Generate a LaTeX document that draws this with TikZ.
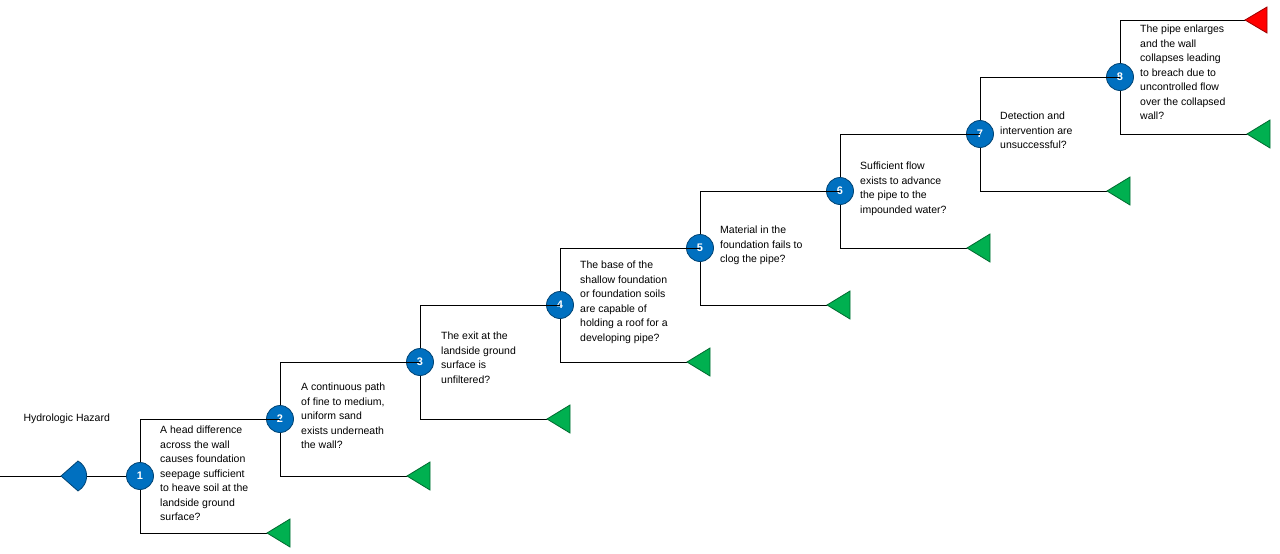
\documentclass[tikz,border=0pt]{standalone}
\usepackage{fontspec}
\setmainfont{Liberation Sans}
\definecolor{nodeblue}{HTML}{0070C0}
\definecolor{endgreen}{HTML}{00B050}
\tikzset{
  event/.style={circle,draw=nodeblue!60!black,fill=nodeblue,thick,minimum size=27pt,
    inner sep=0pt,text=white,font=\bfseries\fontsize{11}{11}\selectfont},
  question/.style={anchor=north west,align=left,inner sep=0pt,
    font=\fontsize{10.5}{14.5}\selectfont},
  branch/.style={draw=black,line width=0.8pt},
  endtri/.style={draw=#1!60!black,fill=#1,line width=0.8pt}
}
\begin{document}
\begin{tikzpicture}[x=1pt,y=-1pt]
  \useasboundingbox (0,0) rectangle (1280,554);
  % initiating event
  \node[anchor=west,font=\fontsize{10.5}{12}\selectfont] (hazard) at (20,419) {Hydrologic Hazard};
  \coordinate (start) at (0,476);
  \coordinate (haz) at (61,476);
  \foreach \i in {1,...,8}{
    \node[event] (e\i) at ({140+140*(\i-1)},{476-57*(\i-1)}) {\i};
    \coordinate (up\i) at ({140+140*(\i-1)},{419-57*(\i-1)});
    \coordinate (dn\i) at ({140+140*(\i-1)},{533-57*(\i-1)});
    \coordinate (no\i) at ({267+140*(\i-1)},{533-57*(\i-1)});
    \draw[branch] (up\i) -- (e\i) -- (dn\i) -- (no\i);
    \draw[endtri=endgreen] (no\i) -- ++(23,-14) -- ++(0,28) -- cycle;
  }
  \foreach \i/\j in {1/2,2/3,3/4,4/5,5/6,6/7,7/8}
    \draw[branch] (up\i) -| (e\j);
  \coordinate (yes8) at (1245,20);
  \draw[branch] (up8) -- (yes8);
  \draw[endtri=red] (yes8) -- ++(22,-13) -- ++(0,26) -- cycle;
  \draw[branch] (start) -- (haz) (83,476) -- (e1);
  \draw[fill=nodeblue,draw=nodeblue!60!black,line width=0.8pt]
    (haz) -- (78,461) arc[start angle=120,end angle=240,radius=-17.3] -- cycle;
  % questions
  \node[question] (q1) at (160,426) {A head difference\\across the wall\\causes foundation\\seepage sufficient\\to heave soil at the\\landside ground\\surface?};
  \node[question] (q2) at (301,383) {A continuous path\\of fine to medium,\\uniform sand\\exists underneath\\the wall?};
  \node[question] (q3) at (441,332) {The exit at the\\landside ground\\surface is\\unfiltered?};
  \node[question] (q4) at (580,261) {The base of the\\shallow foundation\\or foundation soils\\are capable of\\holding a roof for a\\developing pipe?};
  \node[question] (q5) at (720,226) {Material in the\\foundation fails to\\clog the pipe?};
  \node[question] (q6) at (860,162) {Sufficient flow\\exists to advance\\the pipe to the\\impounded water?};
  \node[question] (q7) at (1000,112) {Detection and\\intervention are\\unsuccessful?};
  \node[question] (q8) at (1140,25) {The pipe enlarges\\and the wall\\collapses leading\\to breach due to\\uncontrolled flow\\over the collapsed\\wall?};
\end{tikzpicture}
\end{document}
